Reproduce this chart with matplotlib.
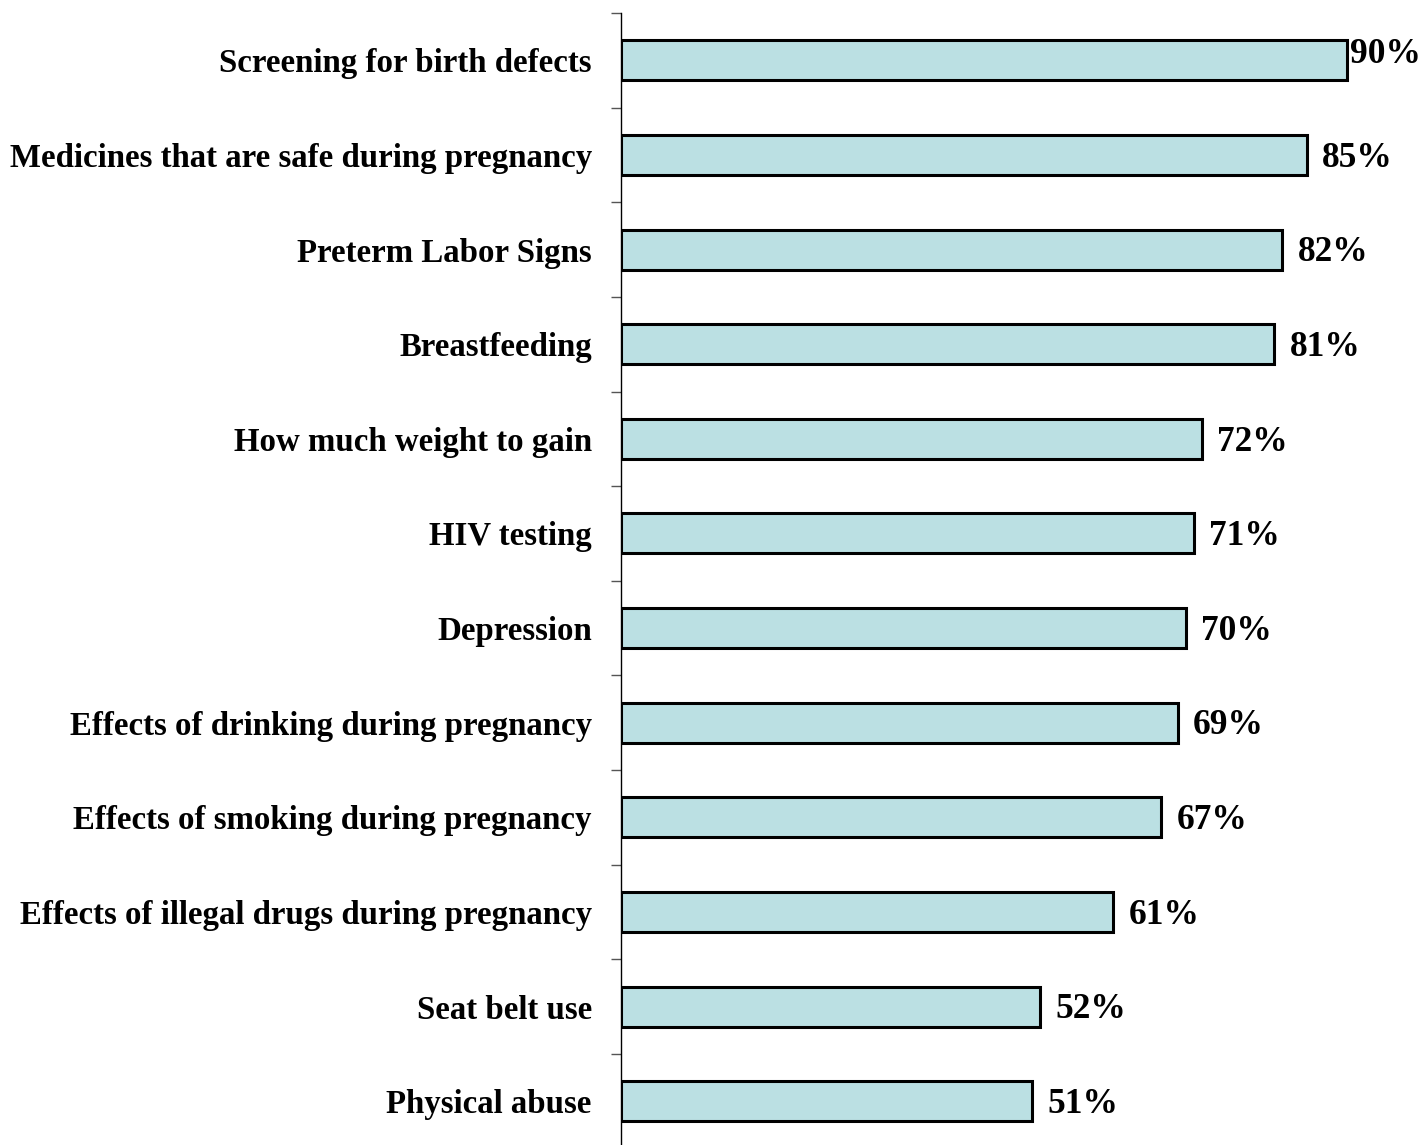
import matplotlib
matplotlib.use("Agg")
import matplotlib.pyplot as plt
import numpy as np

categories = [
    "Screening for birth defects",
    "Medicines that are safe during pregnancy",
    "Preterm Labor Signs",
    "Breastfeeding",
    "How much weight to gain",
    "HIV testing",
    "Depression",
    "Effects of drinking during pregnancy",
    "Effects of smoking during pregnancy",
    "Effects of illegal drugs during pregnancy",
    "Seat belt use",
    "Physical abuse",
]
values = [90, 85, 82, 81, 72, 71, 70, 69, 67, 61, 52, 51]
value_labels = ["90%", "85%", "82%", "81%", "72%", "71%", "70%", "69%", "67%", "61%", "52%", "51%"]

plt.rcParams['font.family'] = ['Liberation Serif', 'DejaVu Serif']
plt.rcParams['font.weight'] = 'bold'

W, H = 1422, 1145
fig = plt.figure(figsize=(W / 100, H / 100), dpi=100)
ax = fig.add_axes([621 / W, 1 - 1148.6 / H, 801 / W, 1135.6 / H])

y = np.arange(len(categories))
ax.barh(y, values, height=0.423, color="#BBE0E3", edgecolor="black", linewidth=2.2)

ax.set_xlim(0, 99.3)
ax.set_ylim(len(categories) - 0.5, -0.5)

for s in ["top", "right", "bottom"]:
    ax.spines[s].set_visible(False)
ax.spines["left"].set_linewidth(1.0)
ax.set_xticks([])

ax.set_yticks(y)
ax.set_yticklabels(categories, fontsize=23.7, fontweight="bold")
ax.tick_params(axis="y", which="major", length=0, pad=21)
ax.set_yticks(np.arange(-0.5, len(categories) + 0.5, 1), minor=True)
ax.tick_params(axis="y", which="minor", length=7, width=1.0, color="#555555")

for i, (v, lab) in enumerate(zip(values, value_labels)):
    if i == 0:
        ax.annotate(lab, (v, i), xytext=(2, -2.2), textcoords="offset points",
                    ha="left", va="baseline", fontsize=25.5, fontweight="bold")
    else:
        ax.annotate(lab, (v, i), xytext=(11, -8.4), textcoords="offset points",
                    ha="left", va="baseline", fontsize=25.5, fontweight="bold")

fig.savefig("out.png", dpi=100)
